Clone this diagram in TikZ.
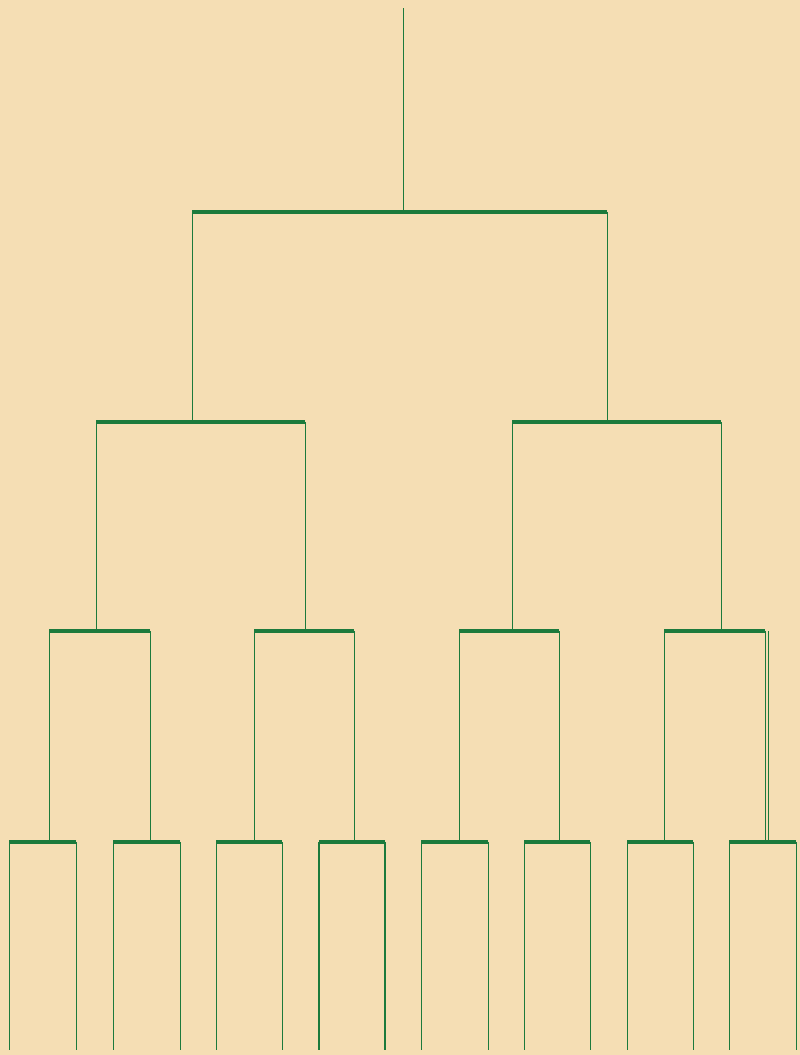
\documentclass[tikz,border=0pt]{standalone}
\definecolor{paper}{RGB}{245,222,180}
\definecolor{ink}{RGB}{28,122,60}
\tikzset{
  bar/.style={ink, line width=2.4pt},
  leg/.style={ink, line width=0.5pt},
  heavybar/.style={ink, line width=2.8pt},
  heavyleg/.style={ink, line width=1.5pt}
}
\begin{document}
\begin{tikzpicture}[x=0.025cm, y=-0.025cm]
\fill[paper] (0,0) rectangle (800,1055);
% root stem and first bar
\coordinate (top) at (403,8);
\coordinate (root) at (403,212);
\coordinate (a1) at (192,212);
\coordinate (a2) at (607,212);
\draw[leg] (top) -- (root);
\draw[bar] (a1) -- (a2);
% second row
\coordinate (a1b) at (192,422);
\coordinate (a2b) at (607,422);
\coordinate (b1) at (96,422);
\coordinate (b2) at (305,422);
\coordinate (b3) at (512,422);
\coordinate (b4) at (721,422);
\draw[leg] (a1) -- (a1b);
\draw[leg] (a2) -- (a2b);
\draw[bar] (b1) -- (b2);
\draw[bar] (b3) -- (b4);
% third row
\coordinate (b1b) at (96,631);
\coordinate (b2b) at (305,631);
\coordinate (b3b) at (512,631);
\coordinate (b4b) at (721,631);
\coordinate (c1) at (49,631);
\coordinate (c2) at (150,631);
\coordinate (c3) at (254,631);
\coordinate (c4) at (354,631);
\coordinate (c5) at (459,631);
\coordinate (c6) at (559,631);
\coordinate (c7) at (664,631);
\coordinate (c8) at (765,631);
\draw[leg] (b1) -- (b1b);
\draw[leg] (b2) -- (b2b);
\draw[leg] (b3) -- (b3b);
\draw[leg] (b4) -- (b4b);
\draw[bar] (c1) -- (c2);
\draw[bar] (c3) -- (c4);
\draw[bar] (c5) -- (c6);
\draw[bar] (c7) -- (c8);
% fourth row
\coordinate (c1b) at (49,842);
\coordinate (c2b) at (150,842);
\coordinate (c3b) at (254,842);
\coordinate (c4b) at (354,842);
\coordinate (c5b) at (459,842);
\coordinate (c6b) at (559,842);
\coordinate (c7b) at (664,842);
\coordinate (c8b) at (765,842);
\coordinate (c8d) at (768,631);
\coordinate (c8e) at (768,842);
\draw[leg] (c1) -- (c1b);
\draw[leg] (c2) -- (c2b);
\draw[leg] (c3) -- (c3b);
\draw[leg] (c4) -- (c4b);
\draw[leg] (c5) -- (c5b);
\draw[leg] (c6) -- (c6b);
\draw[leg] (c7) -- (c7b);
\draw[leg] (c8) -- (c8b);
\draw[leg] (c8d) -- (c8e);
\coordinate (d1) at (9,842);
\coordinate (d2) at (76,842);
\coordinate (d3) at (113,842);
\coordinate (d4) at (180,842);
\coordinate (d5) at (216,842);
\coordinate (d6) at (282,842);
\coordinate (d7) at (319,842);
\coordinate (d8) at (385,842);
\coordinate (d9) at (421,842);
\coordinate (d10) at (488,842);
\coordinate (d11) at (524,842);
\coordinate (d12) at (590,842);
\coordinate (d13) at (627,842);
\coordinate (d14) at (693,842);
\coordinate (d15) at (729,842);
\coordinate (d16) at (796,842);
\draw[bar] (d1) -- (d2);
\draw[bar] (d3) -- (d4);
\draw[bar] (d5) -- (d6);
\draw[heavybar] (d7) -- (d8);
\draw[bar] (d9) -- (d10);
\draw[bar] (d11) -- (d12);
\draw[bar] (d13) -- (d14);
\draw[bar] (d15) -- (d16);
% bottom legs
\coordinate (e1) at (9,1050);
\coordinate (e2) at (76,1050);
\coordinate (e3) at (113,1050);
\coordinate (e4) at (180,1050);
\coordinate (e5) at (216,1050);
\coordinate (e6) at (282,1050);
\coordinate (e7) at (319,1050);
\coordinate (e8) at (385,1050);
\coordinate (e9) at (421,1050);
\coordinate (e10) at (488,1050);
\coordinate (e11) at (524,1050);
\coordinate (e12) at (590,1050);
\coordinate (e13) at (627,1050);
\coordinate (e14) at (693,1050);
\coordinate (e15) at (729,1050);
\coordinate (e16) at (796,1050);
\draw[leg] (d1) -- (e1);
\draw[leg] (d2) -- (e2);
\draw[leg] (d3) -- (e3);
\draw[leg] (d4) -- (e4);
\draw[leg] (d5) -- (e5);
\draw[leg] (d6) -- (e6);
\draw[heavyleg] (d7) -- (e7);
\draw[heavyleg] (d8) -- (e8);
\draw[leg] (d9) -- (e9);
\draw[leg] (d10) -- (e10);
\draw[leg] (d11) -- (e11);
\draw[leg] (d12) -- (e12);
\draw[leg] (d13) -- (e13);
\draw[leg] (d14) -- (e14);
\draw[leg] (d15) -- (e15);
\draw[leg] (d16) -- (e16);
\end{tikzpicture}
\end{document}
